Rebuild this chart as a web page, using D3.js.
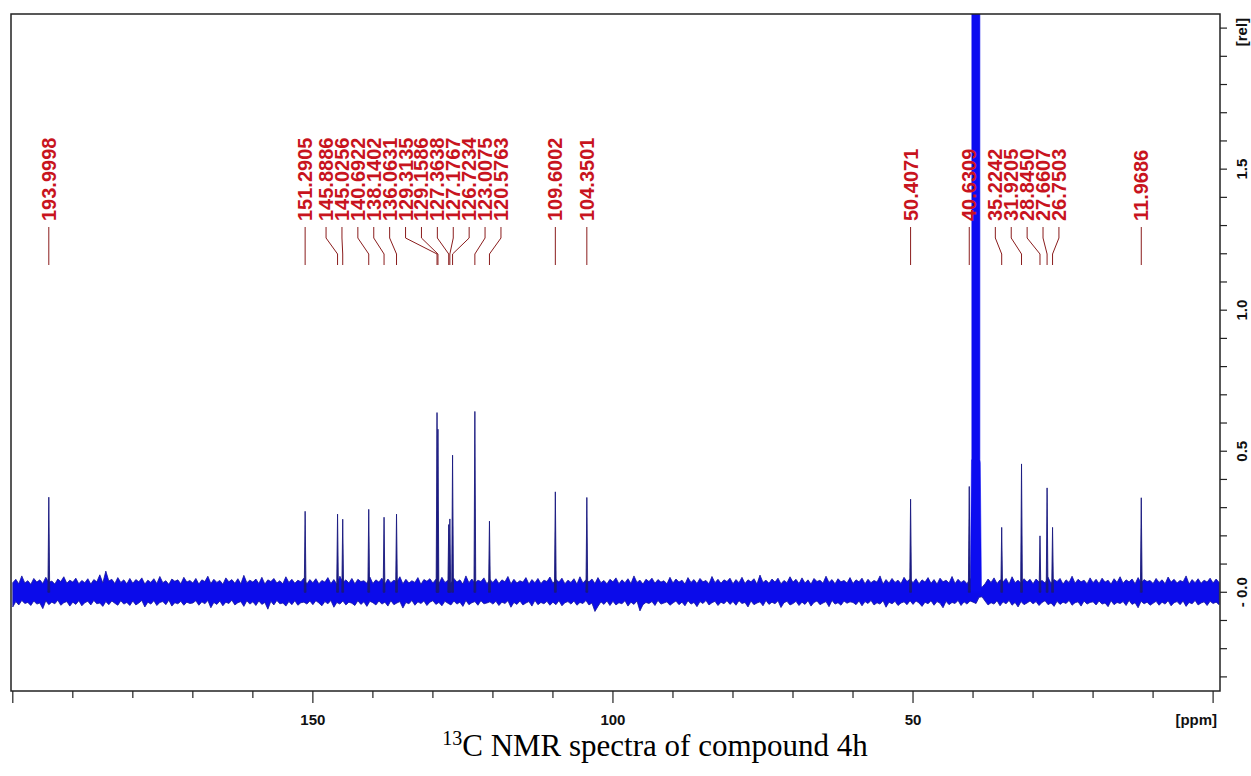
<!DOCTYPE html>
<html><head><meta charset="utf-8">
<script src="https://cdn.jsdelivr.net/npm/d3@7"></script>
<style>body{margin:0;background:#fff}svg{display:block}</style>
</head><body>
<svg id="chart" width="1251" height="776"></svg>
<script>
// ---------------- data ----------------
const peakPpm = [193.9998,151.2905,145.8886,145.0256,140.6922,138.1402,136.0631,129.3135,129.1586,127.3638,127.1767,126.7234,123.0075,120.5763,109.6002,104.3501,50.4071,40.6309,35.2242,31.9205,28.8450,27.6607,26.7503,11.9686];
const peakRel = [0.337,0.287,0.277,0.259,0.294,0.266,0.277,0.637,0.578,0.240,0.260,0.486,0.641,0.252,0.356,0.336,0.330,0.375,0.230,0.455,0.200,0.370,0.230,0.335];

// DMSO-d6 solvent multiplet outline (goes off scale)
const solventPpm = [40.45,40.26,40.20,40.20,38.86,38.86,38.80,38.60];
const solventRel = [0,0.47,0.47,2.3,2.3,0.47,0.46,0];

// baseline noise envelope (units of 0.001 rel), one sample every 0.5 ppm from 200 down to -1
const noiseStartPpm = 200, noiseStepPpm = 0.5;
const noiseHiMilli = [
 34,46,30,58,33,41,28,49,36,44,31,53,35,40,29,47,38,55,32,43,
 36,50,30,42,34,48,29,45,37,62,33,75,40,46,31,52,35,44,30,49,
 32,45,37,51,29,43,35,48,31,56,34,41,28,47,39,44,30,53,36,42,
 33,49,29,44,38,57,31,46,35,42,28,51,37,45,32,48,30,60,34,43,
 36,47,31,53,29,44,38,49,33,41,30,55,35,46,32,43,37,50,29,45,
 34,48,30,42,36,52,31,45,28,57,35,44,33,49,30,46,38,41,32,54,
 31,44,36,50,29,47,34,43,37,55,30,46,33,41,35,52,28,45,39,48,
 33,46,30,53,35,42,31,49,36,44,29,58,34,47,32,43,38,51,30,45,
 35,48,31,44,37,56,30,46,33,41,36,52,29,45,34,49,31,43,38,54,
 32,45,36,50,30,43,35,48,29,55,33,44,37,47,31,52,34,42,30,46,
 37,51,30,44,34,48,31,58,35,43,29,46,38,50,32,45,36,41,30,53,
 33,47,36,43,29,52,35,45,31,49,37,42,30,56,34,46,32,44,38,50,
 30,45,34,53,31,44,37,48,29,61,35,43,32,47,36,50,30,42,34,55,
 36,46,31,51,33,44,29,49,38,43,32,57,35,45,30,48,37,42,33,52,
 31,44,37,50,30,46,34,42,36,58,29,45,33,49,35,43,31,53,38,47,
 34,48,30,44,36,52,32,45,29,50,37,43,33,56,31,46,35,42,30,49,
 33,45,20,18,30,47,35,51,31,44,37,49,29,55,34,43,32,48,36,46,
 30,47,36,42,33,53,31,45,38,49,29,44,35,57,32,46,37,43,30,51,
 34,46,31,50,36,43,29,48,35,55,32,44,37,47,30,52,33,45,38,42,
 31,49,35,44,30,54,36,46,33,42,37,58,29,45,34,48,32,43,36,50,
 33,47,35];
const noiseLoMilli = [
 -52,-33,-45,-29,-40,-36,-47,-31,-42,-38,-58,-30,-44,-35,-41,-28,-46,-37,-33,-49,
 -35,-43,-30,-48,-37,-32,-45,-29,-41,-38,-50,-33,-44,-31,-39,-46,-30,-42,-36,-47,
 -31,-45,-38,-29,-52,-35,-42,-30,-47,-36,-33,-44,-28,-49,-37,-41,-32,-46,-35,-40,
 -38,-30,-46,-34,-41,-29,-55,-36,-43,-31,-48,-35,-40,-28,-45,-37,-33,-50,-30,-42,
 -34,-47,-31,-43,-36,-60,-32,-45,-29,-41,-38,-49,-33,-44,-30,-46,-37,-35,-42,-31,
 -44,-30,-38,-48,-33,-41,-29,-53,-36,-42,-31,-45,-35,-39,-47,-30,-43,-34,-50,-32,
 -37,-45,-31,-42,-35,-49,-30,-44,-38,-33,-56,-36,-41,-29,-46,-34,-40,-31,-47,-35,
 -30,-43,-36,-48,-32,-39,-45,-31,-42,-35,-50,-29,-44,-37,-33,-46,-30,-41,-38,-34,
 -42,-32,-47,-35,-40,-30,-53,-36,-43,-31,-45,-38,-33,-49,-29,-44,-36,-41,-32,-46,
 -35,-44,-30,-48,-37,-33,-42,-31,-46,-36,-40,-29,-45,-38,-68,-50,-34,-43,-31,-47,
 -32,-45,-37,-41,-30,-49,-35,-43,-31,-66,-44,-36,-40,-33,-47,-29,-42,-38,-34,-46,
 -38,-31,-44,-35,-48,-30,-42,-36,-51,-33,-40,-29,-45,-37,-32,-47,-35,-41,-30,-43,
 -33,-46,-30,-40,-36,-52,-31,-44,-38,-34,-48,-29,-43,-35,-41,-30,-54,-37,-32,-45,
 -40,-32,-47,-35,-43,-30,-49,-36,-31,-44,-38,-33,-51,-29,-42,-37,-46,-31,-39,-34,
 -36,-44,-31,-48,-33,-40,-29,-45,-37,-42,-30,-53,-35,-41,-32,-47,-38,-34,-44,-30,
 -43,-31,-38,-50,-35,-41,-30,-46,-33,-39,-55,-32,-44,-36,-40,-29,-47,-34,-42,-31,
 -35,-40,-18,-16,-31,-45,-37,-42,-30,-48,-34,-41,-29,-46,-36,-52,-33,-44,-38,-31,
 -41,-33,-47,-36,-30,-44,-38,-50,-32,-43,-35,-40,-29,-46,-37,-34,-49,-31,-42,-36,
 -34,-45,-31,-42,-38,-51,-30,-44,-36,-40,-33,-47,-29,-43,-37,-55,-32,-41,-35,-46,
 -39,-32,-46,-35,-42,-30,-48,-37,-33,-44,-31,-50,-36,-41,-29,-45,-38,-34,-47,-32,
 -40,-35,-44];

const xTicks = d3.range(200, -1, -10);
const xTickLabels = {150:"150",100:"100",50:"50",0:"[ppm]"};
const yTicks = d3.range(-3, 21).map(d => d/10);
const yTickLabels = {"0.5":"0.5","1":"1.0","1.5":"1.5","0":"- 0.0","2":"[rel]"};
const caption = {sup:"13", text:"C NMR spectra of compound 4h"};

// ---------------- drawing ----------------
const svg = d3.select("#chart");
const L = 11, R = 1220, T = 14, B = 691;
const x = d3.scaleLinear().domain([200.3, -1.15]).range([L, R]);
const y = d3.scaleLinear().domain([-0.35, 2.05]).range([B, T]);

svg.append("defs").append("clipPath").attr("id","plot")
  .append("rect").attr("x",L).attr("y",T).attr("width",R-L).attr("height",B-T);
const plot = svg.append("g").attr("clip-path","url(#plot)");

// noise band
const nN = Math.min(noiseHiMilli.length, noiseLoMilli.length);
const noise = d3.range(nN).map(i=>({p: noiseStartPpm - i*noiseStepPpm, h: noiseHiMilli[i]/1000, l: noiseLoMilli[i]/1000}));
plot.append("path").datum(noise)
  .attr("d", d3.area().x(d=>x(d.p)).y0(d=>y(d.l)).y1(d=>y(d.h)))
  .attr("fill","#0b0bea").attr("stroke","#15159c").attr("stroke-width",0.8).attr("stroke-linejoin","miter");

// solvent block
const solv = solventPpm.map((p,i)=>[x(p), y(solventRel[i])]);
plot.append("path").attr("d", d3.line()(solv)+"Z").attr("fill","#0c0cf0").attr("stroke","#0c0cf0").attr("stroke-width",0.6);

// peaks
const hw = 0.15;
const peakLine = d3.line();
peakPpm.forEach((p,i)=>{
  const pts = [[x(p+hw), y(0)], [x(p), y(peakRel[i])], [x(p-hw), y(0)]];
  plot.append("path").attr("d", peakLine(pts)+"Z")
    .attr("fill","#1a1a80").attr("stroke","#1a1a80").attr("stroke-width",0.9).attr("stroke-linejoin","miter");
});

// frame
svg.append("rect").attr("x",L).attr("y",T).attr("width",R-L).attr("height",B-T)
  .attr("fill","none").attr("stroke","#222").attr("stroke-width",1.5);

// x ticks
const gx = svg.append("g");
xTicks.forEach(t=>{
  const major = t % 50 === 0;
  gx.append("line").attr("x1",x(t)).attr("x2",x(t)).attr("y1",B).attr("y2",B+(major?12:7))
    .attr("stroke","#222").attr("stroke-width",1.2);
  if (xTickLabels[t]) {
    gx.append("text").attr("x", t===0 ? x(t)+4 : x(t)).attr("y",719)
      .attr("text-anchor", t===0 ? "end" : "middle").attr("dominant-baseline","central")
      .attr("font-family","'Liberation Sans', Arial, sans-serif").attr("font-weight","bold")
      .attr("font-size",15).attr("fill","#111").text(xTickLabels[t]);
  }
});

// y ticks (right side)
const gy = svg.append("g");
yTicks.forEach(t=>{
  gy.append("line").attr("x1",R).attr("x2",R+7).attr("y1",y(t)).attr("y2",y(t))
    .attr("stroke","#222").attr("stroke-width",1.2);
  const key = String(t);
  if (yTickLabels[key]) {
    gy.append("text").attr("transform",`translate(1241,${y(t) + (t===2?4:0)}) rotate(-90)`)
      .attr("text-anchor","middle").attr("dominant-baseline","central")
      .attr("font-family","'Liberation Sans', Arial, sans-serif").attr("font-weight","bold")
      .attr("font-size",15).attr("fill","#111").text(yTickLabels[key]);
  }
});

// peak labels: clusters spread with fixed pitch, centred on their peak span
const pitch = 15.9;
let clusters = peakPpm.map((p,i)=>({idx:[i]}));
function layout(c){
  const xs = c.idx.map(i=>x(peakPpm[i]));
  const mid = (d3.min(xs)+d3.max(xs))/2;
  c.start = mid - pitch*(c.idx.length-1)/2;
  c.end = c.start + pitch*(c.idx.length-1);
}
clusters.forEach(layout);
let changed = true;
while (changed) {
  changed = false;
  for (let k=0;k<clusters.length-1;k++){
    if (clusters[k+1].start - clusters[k].end < pitch) {
      clusters[k].idx = clusters[k].idx.concat(clusters[k+1].idx);
      clusters.splice(k+1,1); layout(clusters[k]); changed = true; break;
    }
  }
}
const fmt = d3.format(".4f");
const gl = svg.append("g");
clusters.forEach(c=>{
  c.idx.forEach((i,j)=>{
    const lx = c.start + j*pitch, px = x(peakPpm[i]);
    gl.append("path").attr("d",`M${lx},227L${lx},238L${px},254L${px},265`)
      .attr("fill","none").attr("stroke","#8a1c1c").attr("stroke-width",1);
    gl.append("text").attr("transform",`translate(${lx},221) rotate(-90)`)
      .attr("text-anchor","start").attr("dominant-baseline","central")
      .attr("font-family","'Liberation Sans', Arial, sans-serif").attr("font-weight","bold")
      .attr("font-size",20).attr("fill","#c8141e").text(fmt(peakPpm[i]));
  });
});

// caption
const cap = svg.append("text").attr("x",655).attr("y",756).attr("text-anchor","middle")
  .attr("font-family","'Liberation Serif', 'Times New Roman', serif").attr("font-size",31).attr("fill","#000");
cap.append("tspan").attr("font-size",20).attr("dy",-11).text(caption.sup);
cap.append("tspan").attr("dy",11).text(caption.text);
</script>
</body></html>
